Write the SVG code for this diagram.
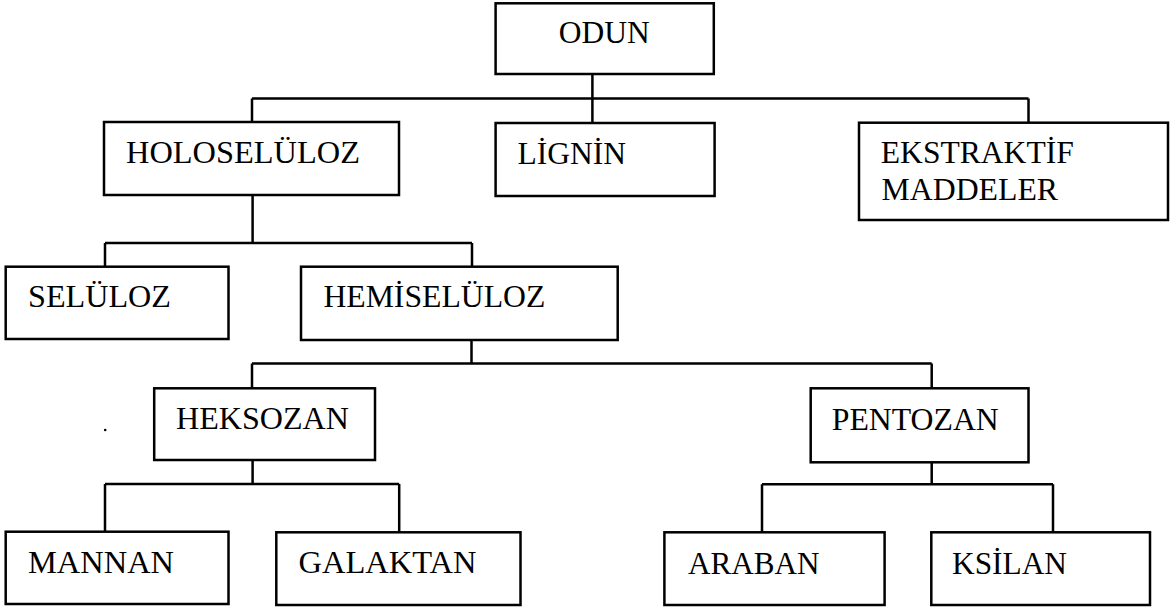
<svg xmlns="http://www.w3.org/2000/svg" width="1171" height="610" viewBox="0 0 1171 610">
<style>
.box{fill:#fff;stroke:#000;stroke-width:2.5}
.lbl{font-family:'Liberation Serif','Times New Roman',serif;font-size:31px;fill:#000}
.con{fill:none;stroke:#000;stroke-width:2.5}
</style>
<rect width="1171" height="610" fill="#fff"/>
<g id="connectors">
<path class="con" d="M592.4 74V123M252 98.5H1028.5M252 98.5V122M1028.5 98.5V122.7"/>
<path class="con" d="M252.6 195V243M105 243H472M105 243V266.7M472 243V266.7"/>
<path class="con" d="M471.5 340V363.5M252 363.5H931.7M252 363.5V388.3M931.7 363.5V388.3"/>
<path class="con" d="M252.6 460V484M105 484H399.2M105 484V531.7M399.2 484V532.3"/>
<path class="con" d="M931.7 462.3V484.3M762 484.3H1053M762 484.3V532.3M1053 484.3V532.3"/>
</g>
<g id="odun"><rect class="box" x="495.6" y="3.3" width="218.2" height="70.7"/><text class="lbl" x="558.7" y="43.3" textLength="91" lengthAdjust="spacingAndGlyphs">ODUN</text></g>
<g id="holoseluloz"><rect class="box" x="104" y="122" width="295" height="73"/><text class="lbl" x="126" y="163" textLength="234" lengthAdjust="spacingAndGlyphs">HOLOSELÜLOZ</text></g>
<g id="lignin"><rect class="box" x="495.6" y="123" width="219" height="73"/><text class="lbl" x="517.4" y="164" textLength="108.6" lengthAdjust="spacingAndGlyphs">LİGNİN</text></g>
<g id="ekstraktif"><rect class="box" x="859" y="122.7" width="309" height="97.3"/><text class="lbl" x="880.8" y="163.3" textLength="193" lengthAdjust="spacingAndGlyphs">EKSTRAKTİF</text><text class="lbl" x="881.5" y="200" textLength="176.5" lengthAdjust="spacingAndGlyphs">MADDELER</text></g>
<g id="seluloz"><rect class="box" x="5.7" y="266.7" width="222.8" height="72.3"/><text class="lbl" x="28" y="306.7" textLength="143" lengthAdjust="spacingAndGlyphs">SELÜLOZ</text></g>
<g id="hemiseluloz"><rect class="box" x="301" y="266.7" width="316.7" height="73.3"/><text class="lbl" x="323.4" y="306.7" textLength="222" lengthAdjust="spacingAndGlyphs">HEMİSELÜLOZ</text></g>
<g id="heksozan"><rect class="box" x="154.2" y="388.3" width="220.8" height="71.7"/><text class="lbl" x="176" y="429.3" textLength="173" lengthAdjust="spacingAndGlyphs">HEKSOZAN</text></g>
<g id="pentozan"><rect class="box" x="810.7" y="388.3" width="217.8" height="74"/><text class="lbl" x="831.8" y="430" textLength="167" lengthAdjust="spacingAndGlyphs">PENTOZAN</text></g>
<g id="mannan"><rect class="box" x="5.7" y="531.7" width="222.8" height="72.3"/><text class="lbl" x="28" y="572.7" textLength="146" lengthAdjust="spacingAndGlyphs">MANNAN</text></g>
<g id="galaktan"><rect class="box" x="276.3" y="532.3" width="244.2" height="72.7"/><text class="lbl" x="298.5" y="572.7" textLength="178" lengthAdjust="spacingAndGlyphs">GALAKTAN</text></g>
<g id="araban"><rect class="box" x="664.4" y="532.3" width="220.2" height="72.7"/><text class="lbl" x="688" y="574" textLength="131.5" lengthAdjust="spacingAndGlyphs">ARABAN</text></g>
<g id="ksilan"><rect class="box" x="931.3" y="532.3" width="218.7" height="72.7"/><text class="lbl" x="952" y="574" textLength="115" lengthAdjust="spacingAndGlyphs">KSİLAN</text></g>
<circle cx="105.2" cy="430" r="1.3" fill="#000"/>
</svg>
